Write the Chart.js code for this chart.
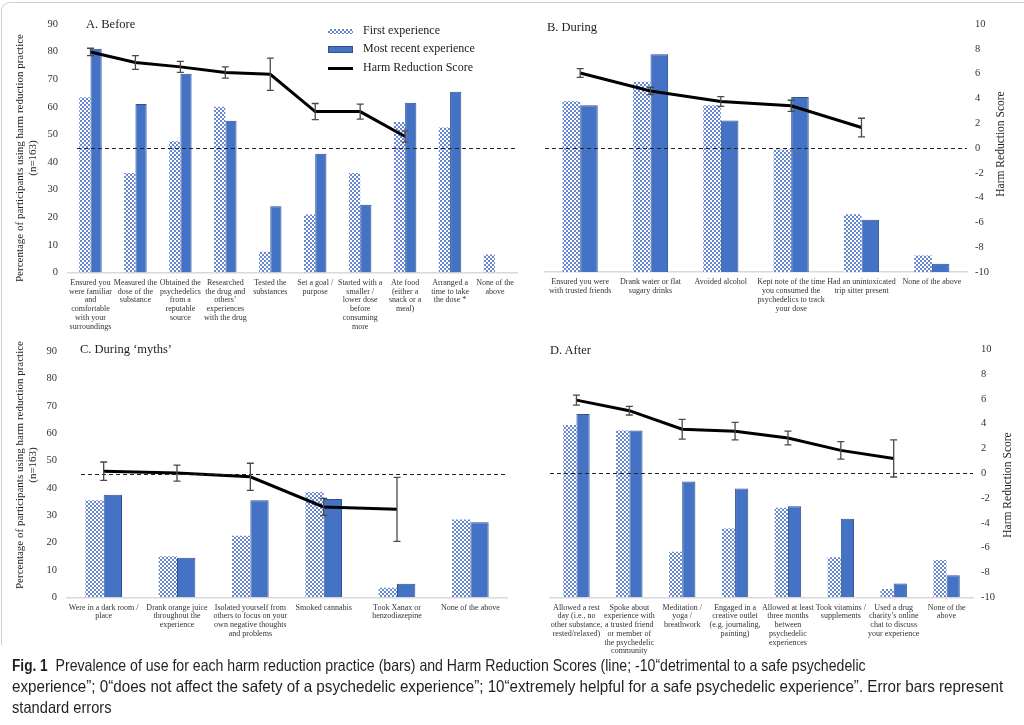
<!DOCTYPE html>
<html>
<head>
<meta charset="UTF-8">
<title>Harm reduction practices</title>
<script src="https://cdn.jsdelivr.net/npm/chart.js"></script>
<style>
body{margin:0;width:1024px;height:725px;background:#fff;position:relative;overflow:hidden;font-family:"Liberation Serif",serif;color:#222;}
.frame{position:absolute;left:1px;top:2px;width:1040px;height:642px;border-left:1.5px solid #cfcfcf;border-top:1.5px solid #cfcfcf;border-top-left-radius:9px;}
canvas{position:absolute;}
.ttl{position:absolute;font-size:12.5px;line-height:14px;white-space:nowrap;}
.ytl{position:absolute;width:280px;height:26px;font-size:11px;line-height:13px;text-align:center;transform:rotate(-90deg);white-space:nowrap;}
.ytr{position:absolute;width:140px;height:14px;font-size:11.5px;line-height:14px;text-align:center;transform:rotate(-90deg);white-space:nowrap;}
.leg{position:absolute;left:328px;font-size:12px;line-height:14px;white-space:nowrap;}
.leg span{display:inline-block;width:25px;margin-right:10px;vertical-align:middle;}
.sw1{height:5px;background:repeating-conic-gradient(#6787d0 0 25%,#fff 0 50%) 0 0/4px 4px;}
.sw2{height:5px;background:#4472C4;border:1px solid #2F528F;width:23px!important;}
.sw3{height:3px;background:#000;}
.cap{position:absolute;left:12px;top:655px;width:1010px;font-family:"Liberation Sans",sans-serif;font-size:16.5px;line-height:21px;color:#231f20;white-space:nowrap;}
.cap div{transform-origin:0 50%;}
.cap b{font-size:16px;}
</style>
</head>
<body>
<div class="frame"></div>

<canvas id="cA" width="520" height="335" style="left:0;top:0"></canvas>
<canvas id="cB" width="504" height="335" style="left:520px;top:0"></canvas>
<canvas id="cC" width="520" height="330" style="left:0;top:335px"></canvas>
<canvas id="cD" width="504" height="330" style="left:520px;top:335px"></canvas>

<div class="ttl" style="left:86px;top:17px">A. Before</div>
<div class="ttl" style="left:547px;top:20px">B. During</div>
<div class="ttl" style="left:80px;top:342px">C. During ‘myths’</div>
<div class="ttl" style="left:550px;top:343px">D. After</div>

<div class="ytl" style="left:-114px;top:145px">Percentage of participants using harm reduction practice<br>(n=163)</div>
<div class="ytl" style="left:-114px;top:452px">Percentage of participants using harm reduction practice<br>(n=163)</div>
<div class="ytr" style="left:930px;top:137px">Harm Reduction Score</div>
<div class="ytr" style="left:937px;top:478px">Harm Reduction Score</div>

<div class="leg" style="top:23px"><span class="sw1"></span>First experience</div>
<div class="leg" style="top:41px"><span class="sw2"></span>Most recent experience</div>
<div class="leg" style="top:60px"><span class="sw3"></span>Harm Reduction Score</div>

<div class="cap">
<div style="transform:scaleX(0.855)"><b>Fig. 1</b>&nbsp; Prevalence of use for each harm reduction practice (bars) and Harm Reduction Scores (line; -10“detrimental to a safe psychedelic</div>
<div style="transform:scaleX(0.92)">experience”; 0“does not affect the safety of a psychedelic experience”; 10“extremely helpful for a safe psychedelic experience”. Error bars represent</div>
<div style="transform:scaleX(0.89)">standard errors</div>
</div>

<script>
// A. Before
const beforeLabels = [['Ensured you','were familiar','and','comfortable','with your','surroundings'],['Measured the','dose of the','substance'],['Obtained the','psychedelics','from a','reputable','source'],['Researched','the drug and','others’','experiences','with the drug'],['Tested the','substances'],['Set a goal /','purpose'],['Started with a','smaller /','lower dose','before','consuming','more'],['Ate food','(either a','snack or a','meal)'],['Arranged a','time to take','the dose *'],['None of the','above']];
const beforeFirst  = [63.5, 36, 47.5, 60, 7.5, 21, 36, 54.5, 52.5, 6.5];
const beforeRecent = [81, 61, 72, 55, 24, 43, 24.5, 61.5, 65.5, null];
const beforeScore  = [7.75, 6.9, 6.55, 6.1, 5.95, 2.95, 2.95, 0.95, null, null];
const beforeErr    = [0.3, 0.55, 0.45, 0.45, 1.3, 0.65, 0.6, 0.45, null, null];

// B. During
const duringLabels = [['Ensured you were','with trusted friends'],['Drank water or flat','sugary drinks'],['Avoided alcohol'],['Kept note of the time','you consumed the','psychedelics to track','your dose'],['Had an unintoxicated','trip sitter present'],['None of the above']];
const duringFirst  = [62, 69, 60.5, 44.5, 21, 6];
const duringRecent = [60.5, 79, 55, 63.5, 19, 3];
const duringScore  = [6.05, 4.6, 3.75, 3.4, 1.65, null];
const duringErr    = [0.35, 0.3, 0.4, 0.45, 0.75, null];

// C. During 'myths'
const mythLabels = [['Were in a dark room /','place'],['Drank orange juice','throughout the','experience'],['Isolated yourself from','others to focus on your','own negative thoughts','and problems'],['Smoked cannabis'],['Took Xanax or','benzodiazepine'],['None of the above']];
const mythFirst  = [35.5, 15, 22.5, 38.5, 3.5, 28.5];
const mythRecent = [37.5, 14.5, 35.5, 36, 5, 27.5];
const mythScore  = [0.25, 0.1, -0.2, -2.65, -2.85, null];
const mythErr    = [0.75, 0.65, 1.1, 0.7, 2.6, null];

// D. After
const afterLabels = [['Allowed a rest','day (i.e., no','other substance,','rested/relaxed)'],['Spoke about','experience with','a trusted friend','or member of','the psychedelic','community'],['Meditation /','yoga /','breathwork'],['Engaged in a','creative outlet','(e.g. journaling,','painting)'],['Allowed at least','three months','between','psychedelic','experiences'],['Took vitamins /','supplements'],['Used a drug','charity’s online','chat to discuss','your experience'],['None of the','above']];
const afterFirst  = [62.5, 60.5, 16.5, 25, 32.5, 14.5, 3, 13.5];
const afterRecent = [66.5, 60.5, 42, 39.5, 33, 28.5, 5, 8];
const afterScore  = [5.9, 5.05, 3.55, 3.4, 2.85, 1.85, 1.2, null];
const afterErr    = [0.4, 0.35, 0.8, 0.7, 0.55, 0.7, 1.5, null];

const pctTicks = [0, 10, 20, 30, 40, 50, 60, 70, 80, 90];
const scoreTicks = [-10, -8, -6, -4, -2, 0, 2, 4, 6, 8, 10];

// dotted fill for "first experience"
const pc = document.createElement('canvas');
pc.width = 4; pc.height = 4;
const g = pc.getContext('2d');
g.fillStyle = '#ffffff'; g.fillRect(0, 0, 4, 4);
g.fillStyle = '#6787d0';
g.fillRect(0, 0, 2, 2);
g.fillRect(2, 2, 2, 2);
const dots = g.createPattern(pc, 'repeat');

// zero line + error bars
const extras = {
  id: 'extras',
  afterDatasetsDraw(chart, args, o) {
    const ctx = chart.ctx, a = chart.chartArea, xs = chart.scales.x, ys = chart.scales.y2;
    ctx.save();
    ctx.strokeStyle = '#222';
    ctx.lineWidth = 1.2;
    ctx.setLineDash([4, 3]);
    const z = Math.round(ys.getPixelForValue(0)) + 0.5;
    ctx.beginPath(); ctx.moveTo(a.left + o.dashFrom, z); ctx.lineTo(a.right, z); ctx.stroke();
    ctx.setLineDash([]);
    ctx.strokeStyle = '#4a4a4a';
    ctx.lineWidth = 1.3;
    o.err.forEach((e, i) => {
      if (e == null || o.score[i] == null) return;
      const px = xs.getPixelForValue(i);
      const t = ys.getPixelForValue(o.score[i] + e);
      const b = ys.getPixelForValue(o.score[i] - e);
      ctx.beginPath();
      ctx.moveTo(px, t); ctx.lineTo(px, b);
      ctx.moveTo(px - 3.5, t); ctx.lineTo(px + 3.5, t);
      ctx.moveTo(px - 3.5, b); ctx.lineTo(px + 3.5, b);
      ctx.stroke();
    });
    ctx.restore();
  }
};

const serif = '"Liberation Serif", serif';

function panel(id, labels, first, recent, score, err, lay) {
  return new Chart(document.getElementById(id), {
    type: 'bar',
    data: {
      labels: labels,
      datasets: [
        {label: 'First experience', data: first, backgroundColor: dots, borderWidth: 0, yAxisID: 'y', order: 1},
        {label: 'Most recent experience', data: recent, backgroundColor: '#4472C4', borderColor: '#2F528F', borderWidth: 1, yAxisID: 'y', order: 2},
        {type: 'line', label: 'Harm Reduction Score', data: score, borderColor: '#000', borderWidth: 3, pointRadius: 0, tension: 0, yAxisID: 'y2', order: 0}
      ]
    },
    options: {
      responsive: false,
      animation: false,
      layout: {padding: lay.pad},
      datasets: {bar: {barPercentage: 1, categoryPercentage: 0.5}},
      plugins: {
        legend: {display: false},
        tooltip: {enabled: false},
        extras: {score: score, err: err, dashFrom: lay.dashFrom}
      },
      scales: {
        x: {
          grid: {display: false, drawTicks: false},
          border: {color: '#d9d9d9', width: 1.5},
          ticks: {autoSkip: false, maxRotation: 0, minRotation: 0, padding: 6, color: '#333', font: {family: serif, size: 8, lineHeight: 1.09}},
          afterFit(s) { s.height = lay.xh; }
        },
        y: {
          display: lay.left, min: 0, max: 90,
          grid: {display: false, drawTicks: false},
          border: {display: false},
          ticks: {padding: 10, color: '#333', font: {family: serif, size: 10.5}},
          afterBuildTicks(s) { s.ticks = pctTicks.map(v => ({value: v})); },
          afterFit(s) { if (lay.left) s.width = lay.yw; }
        },
        y2: {
          display: !lay.left, position: 'right', min: -10, max: 10,
          grid: {display: false, drawTicks: false},
          border: {display: false},
          ticks: {padding: 8, color: '#333', font: {family: serif, size: 10.5}},
          afterBuildTicks(s) { s.ticks = scoreTicks.map(v => ({value: v})); },
          afterFit(s) { if (!lay.left) s.width = lay.yw; }
        }
      }
    },
    plugins: [extras]
  });
}

panel('cA', beforeLabels, beforeFirst, beforeRecent, beforeScore, beforeErr,
  {left: true, yw: 68, xh: 62.5, pad: {top: 24, right: 2, left: 0, bottom: 0}, dashFrom: 9});
panel('cB', duringLabels, duringFirst, duringRecent, duringScore, duringErr,
  {left: false, yw: 57, xh: 63, pad: {top: 24, right: 0, left: 25, bottom: 0}, dashFrom: 0});
panel('cC', mythLabels, mythFirst, mythRecent, mythScore, mythErr,
  {left: true, yw: 67, xh: 67.7, pad: {top: 11.7, right: 13, left: 0, bottom: 0}, dashFrom: 14});
panel('cD', afterLabels, afterFirst, afterRecent, afterScore, afterErr,
  {left: false, yw: 51, xh: 67.7, pad: {top: 11.7, right: 0, left: 30, bottom: 0}, dashFrom: 0});
</script>
</body>
</html>
